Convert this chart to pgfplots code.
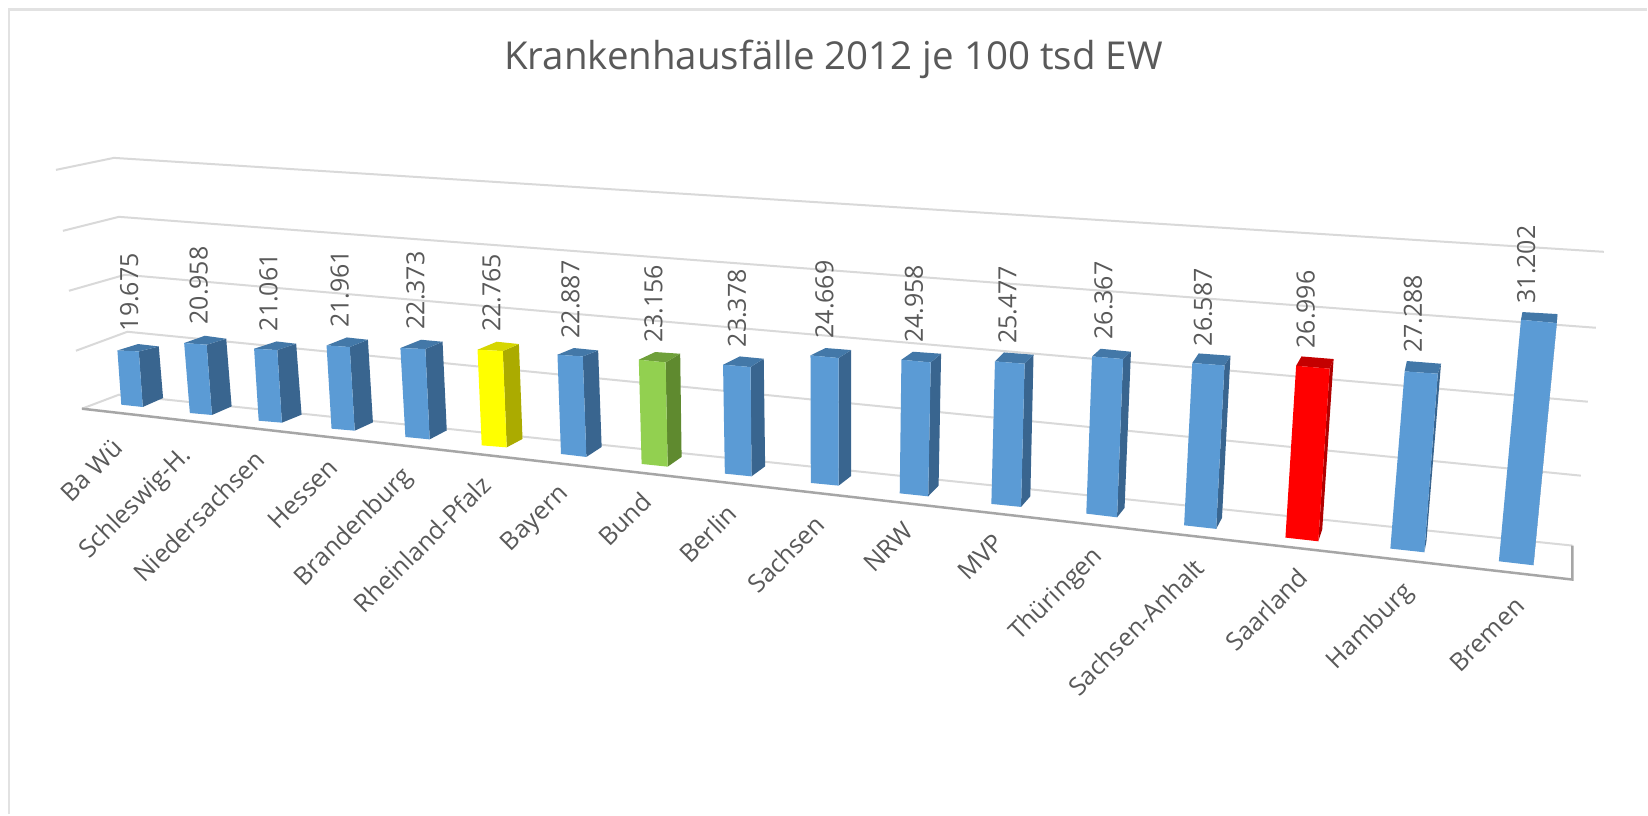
\documentclass[border=0pt]{standalone}
\usepackage{fontspec}
\setmainfont{Open Sans}
\usepackage{pgfplots}
\usepackage{pgfplotstable}
\pgfplotsset{compat=1.18}

\definecolor{txt}{HTML}{595959}
\definecolor{gridc}{HTML}{D9D9D9}
\definecolor{floorc}{HTML}{A6A6A6}
\definecolor{framec}{HTML}{E2E2E2}
\definecolor{bluef}{HTML}{5B9BD5}
\definecolor{blues}{HTML}{39658F}
\definecolor{bluet}{HTML}{4378A8}
\definecolor{yelf}{HTML}{FFFF00}
\definecolor{yels}{HTML}{ABAB00}
\definecolor{yelt}{HTML}{D6D600}
\definecolor{grnf}{HTML}{92D050}
\definecolor{grns}{HTML}{5F8A2F}
\definecolor{grnt}{HTML}{6FA03A}
\definecolor{redf}{HTML}{FF0000}
\definecolor{reds}{HTML}{B00000}
\definecolor{redt}{HTML}{C40000}

% value labels: foot of the rotated text, in picture pixels
\pgfplotstableread{
x y val
129.3 331.7 19.675
199.0 325.0 20.958
268.6 331.7 21.061
340.0 328.3 21.961
415.7 330.0 22.373
491.8 332.3 22.765
571.0 339.0 22.887
654.0 343.3 23.156
737.5 347.7 23.378
825.0 339.0 24.669
914.6 343.3 24.958
1008.2 344.3 25.477
1104.3 340.0 26.367
1204.0 346.7 26.587
1306.8 349.0 26.996
1414.0 353.3 27.288
1527.5 304.0 31.202
}\vals

% category labels: right end of the rotated text
\pgfplotstableread[col sep=comma]{
x,y,name
118,444,Ba Wü
188,452,Schleswig-H.
260.4,455,Niedersachsen
333.4,463.7,Hessen
408.9,473.7,Brandenburg
486.4,480.3,Rheinland-Pfalz
565.5,490.3,Bayern
647,497,Bund
732.9,509.7,Berlin
820.6,520.3,Sachsen
909.7,527,NRW
1000,538.7,MVP
1100,553,Thüringen
1200.5,563.7,Sachsen-Anhalt
1304,573.7,Saarland
1410.7,588.7,Hamburg
1521,602,Bremen
}\cats

% #1 colour stem, then front bottom left, front bottom right, front top right,
% front top left, back top right, back bottom right, back top left
\newcommand{\barbox}[8]{%
  \addplot[draw=none,fill=#1s] coordinates {#3 #7 #6 #4} --cycle;
  \addplot[draw=none,fill=#1t] coordinates {#5 #4 #6 #8} --cycle;
  \addplot[draw=none,fill=#1f] coordinates {#2 #3 #4 #5} --cycle;
}
\newcommand{\gridl}[3]{\addplot[gridc,line width=2pt] coordinates {#1 #2 #3};}

\begin{document}
\begin{tikzpicture}
\begin{axis}[
    width=1648pt, height=815pt, scale only axis,
    xmin=0, xmax=1648, ymin=0, ymax=815,
    y dir=reverse,
    hide axis,
    clip=false,
]
\addplot[draw=none,fill=white] coordinates {(0,0) (1648,0) (1648,815) (0,815)} --cycle;
% outer frame
\addplot[framec,line width=2.5pt] coordinates {(9,815) (9,9.5) (1648,9.5)};

% walls and floor
\gridl{(56,170)}{(114,158)}{(1605,252)}
\gridl{(63,231)}{(119,217)}{(1597,328)}
\gridl{(69,291)}{(125,275)}{(1589,402)}
\gridl{(76,351)}{(127.5,332)}{(1582,476)}
\gridl{(82,409)}{(119,395)}{(1573.6,546)}
\addplot[floorc,line width=2.5pt] coordinates {(82,409) (1573.6,580) (1573.6,546)};

\barbox{blue}{(121.4,405)}{(142.9,407.3)}{(138.9,351.7)}{(117.5,350.7)}{(158.9,346.7)}{(163.2,398.3)}{(138.2,344.3)}
\barbox{blue}{(190,413.3)}{(212.1,415.3)}{(206.8,345)}{(184.3,343.3)}{(226.4,339)}{(231.8,406.7)}{(205,336)}
\barbox{blue}{(258.9,421)}{(282.1,423)}{(277.5,350.3)}{(254.3,349)}{(296.4,344)}{(301.8,415)}{(276.8,341.7)}
\barbox{blue}{(331.8,429)}{(355,431)}{(350,347.3)}{(326.8,345.7)}{(368.2,340)}{(373.2,422.7)}{(347.1,337.7)}
\barbox{blue}{(405.7,437.3)}{(430,439.7)}{(425.7,349.3)}{(400.7,348.3)}{(442.9,342)}{(447.1,430.7)}{(421.4,340)}
\barbox{yel}{(482.1,445.7)}{(507.1,447.7)}{(503.2,351.3)}{(477.9,350)}{(519.3,344.3)}{(522.9,439.3)}{(497.1,342)}
\barbox{blue}{(561.4,454.3)}{(586.8,457.3)}{(583.2,356.7)}{(557.9,355)}{(598.6,350.7)}{(602.1,447.3)}{(574.3,348.3)}
\barbox{grn}{(642.1,464.3)}{(668.2,467)}{(666.1,362.7)}{(639.3,360)}{(680.7,354)}{(682.1,457.3)}{(655.7,352.3)}
\barbox{blue}{(725.4,474)}{(752.1,476.7)}{(751.1,367.3)}{(723.6,365)}{(764.3,359)}{(765.7,466.7)}{(740.4,356.7)}
\barbox{blue}{(811.4,483.3)}{(839.3,486)}{(839.3,358.3)}{(811.1,355.7)}{(851.8,350.3)}{(851.8,476.3)}{(826.1,348.3)}
\barbox{blue}{(900.4,493.7)}{(928.9,496.7)}{(931.4,362.7)}{(902.1,360)}{(941.8,354)}{(939.3,486)}{(913.6,352)}
\barbox{blue}{(992.1,504.3)}{(1021.8,507.3)}{(1025.4,364)}{(995.7,361.7)}{(1034.3,355)}{(1031.1,496.7)}{(1004.6,352.7)}
\barbox{blue}{(1087.1,514)}{(1117.9,517.7)}{(1123.9,359.3)}{(1092.9,356.7)}{(1131.8,352)}{(1125.4,508.3)}{(1101.4,349)}
\barbox{blue}{(1185,525.7)}{(1217.1,529.3)}{(1225.4,365.7)}{(1193.2,363.3)}{(1231.4,356)}{(1222.9,518.3)}{(1199.6,353.7)}
\barbox{red}{(1286.4,538)}{(1319.3,541.7)}{(1330.7,369)}{(1297.1,366)}{(1334.6,359.3)}{(1323.2,530)}{(1302.5,356.7)}
\barbox{blue}{(1391.4,549)}{(1425.4,552.7)}{(1438.9,374)}{(1405.7,371.7)}{(1442.1,364)}{(1427.5,541.7)}{(1407.9,361.3)}
\barbox{blue}{(1500,561.7)}{(1534.6,565.7)}{(1557.9,323.3)}{(1522.1,320)}{(1558.6,314.3)}{(1535.4,555)}{(1523.6,312.3)}

\addplot[only marks,mark=none,
    point meta=explicit symbolic,
    nodes near coords,
    nodes near coords style={rotate=90,anchor=west,inner sep=0pt,text=txt,
        font=\fontsize{25}{25}\selectfont},
] table[x=x,y=y,meta=val] {\vals};

\addplot[only marks,mark=none,
    point meta=explicit symbolic,
    nodes near coords,
    nodes near coords style={rotate=45,anchor=east,inner sep=0pt,text=txt,
        font=\fontsize{25}{25}\selectfont},
] table[x=x,y=y,meta=name] {\cats};

\node[anchor=base,text=txt,font=\fontsize{38.5}{38.5}\selectfont] at (axis cs:834,70)
    {Krankenhausfälle 2012 je 100 tsd EW};
\end{axis}
\end{tikzpicture}
\end{document}
